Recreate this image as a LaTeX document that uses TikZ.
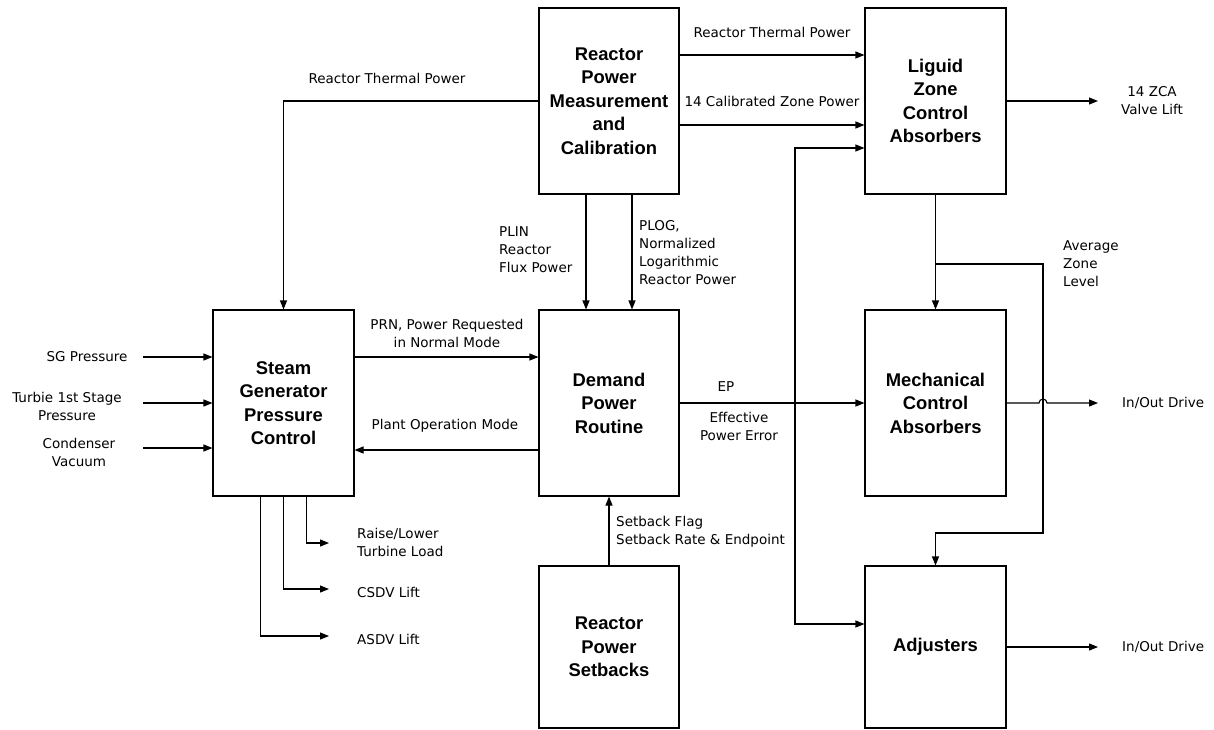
\documentclass[tikz,border=0pt]{standalone}
\usepackage{fontspec}
\setmainfont{DejaVu Sans}
\newfontfamily\tytulfont{Liberation Sans}
\usetikzlibrary{arrows.meta}

\begin{document}
\begin{tikzpicture}[x=1pt,y=-1pt,
	blok/.style={draw,line width=1.1pt,minimum width=140pt,minimum height=186pt,inner sep=0pt,align=center,
		font=\tytulfont\bfseries\fontsize{18.4}{23.5}\selectfont},
	niski/.style={blok,minimum height=162pt},
	strz/.style={line width=1.1pt,-{Triangle[length=9pt,width=7pt]}},
	opis/.style={font=\fontsize{13.5}{18}\selectfont,inner sep=0pt,align=center},
	opisl/.style={opis,align=left,anchor=west}]
	\useasboundingbox (0,0) rectangle (1214,729);
	
	% Bloki
	\node[blok] (rpmc) at (609,101) {Reactor\\Power\\Measurement\\and\\Calibration};
	\node[blok,minimum width=141pt] (lzca) at (935.5,101) {Liguid\\Zone\\Control\\Absorbers};
	\node[blok,minimum width=141pt] (sgpc) at (283.5,403) {Steam\\Generator\\Pressure\\Control};
	\node[blok] (dpr) at (609,403) {Demand\\Power\\Routine};
	\node[blok,minimum width=141pt] (mca) at (935.5,403) {Mechanical\\Control\\Absorbers};
	\node[niski] (rps) at (609,647) {Reactor\\Power\\Setbacks};
	\node[niski,minimum width=141pt] (adj) at (935.5,647) {Adjusters};
	
	% Punkty swobodne
	\coordinate (we1) at (143,357);
	\coordinate (we2) at (143,403);
	\coordinate (we3) at (143,448);
	\coordinate (raise) at (329,543);
	\coordinate (csdv) at (329,589);
	\coordinate (asdv) at (329,636);
	\coordinate (zcaout) at (1098,101);
	\coordinate (mcaout) at (1098,403);
	\coordinate (adjout) at (1098,647);
	\coordinate (szyna) at (795,403);
	\coordinate (rozg) at (935.5,264);
	\coordinate (zakr) at (1043,533);
	\coordinate (skok) at (1043,403);
	
	% Wejscia SGPC
	\draw[strz] (we1) -- (we1 -| sgpc.west);
	\draw[strz] (we2) -- (we2 -| sgpc.west);
	\draw[strz] (we3) -- (we3 -| sgpc.west);
	\node[opis] (sgp) at (87,357) {SG Pressure};
	\node[opis] (tsp) at (67,406) {Turbie 1st Stage\\Pressure};
	\node[opis] (cv) at (79,452) {Condenser\\Vacuum};
	
	% Wyjscia SGPC
	\draw[strz] ([xshift=23pt]sgpc.south) |- (raise);
	\draw[strz] (sgpc.south) |- (csdv);
	\draw[strz] ([xshift=-23pt]sgpc.south) |- (asdv);
	\node[opisl] (rl) at (357,542) {Raise/Lower\\Turbine Load};
	\node[opisl] (cl) at (357,592) {CSDV Lift};
	\node[opisl] (al) at (357,639) {ASDV Lift};
	
	% SGPC <-> DPR
	\draw[strz] ([yshift=46pt]sgpc.east) -- ([yshift=46pt]dpr.west);
	\draw[strz] ([yshift=-47pt]dpr.west) -- ([yshift=-47pt]sgpc.east);
	\node[opis] (prn) at (447,333) {PRN, Power Requested\\in Normal Mode};
	\node[opis] (pom) at (445,426) {Plant Operation Mode};
	
	% RPMC
	\draw[strz] (rpmc.west) -| (sgpc.north);
	\node[opis] (rtp1) at (387,78) {Reactor Thermal Power};
	\draw[strz] ([yshift=46pt]rpmc.east) -- ([yshift=46pt]lzca.west);
	\node[opis] (rtp2) at (772,32) {Reactor Thermal Power};
	\draw[strz] ([yshift=-24pt]rpmc.east) -- ([yshift=-24pt]lzca.west);
	\node[opis] (czp) at (772,101) {14 Calibrated Zone Power};
	\draw[strz] ([xshift=-23pt]rpmc.south) -- ([xshift=-23pt]dpr.north);
	\draw[strz] ([xshift=23pt]rpmc.south) -- ([xshift=23pt]dpr.north);
	\node[opisl] (plin) at (499,250) {PLIN\\Reactor\\Flux Power};
	\node[opisl] (plog) at (639,253) {PLOG,\\Normalized\\Logarithmic\\Reactor Power};
	
	% EP
	\draw[strz] (dpr.east) -- (mca.west);
	\draw[strz] (szyna) |- ([yshift=-47pt]lzca.west);
	\draw[strz] (szyna) |- ([yshift=23pt]adj.west);
	\node[opis] (ep) at (726,387) {EP};
	\node[opis] (epe) at (739,426) {Effective\\Power Error};
	
	% Setbacks
	\draw[strz] (rps.north) -- (dpr.south);
	\node[opisl] (sbf) at (616,532) {Setback Flag\\Setback Rate \& Endpoint};
	
	% LZCA -> MCA, Adjusters
	\draw[strz] (lzca.south) -- (mca.north);
	\draw[strz] (rozg) -| (zakr) -| (adj.north);
	\node[opisl] (azl) at (1063,264) {Average\\Zone\\Level};
	
	% Wyjscia
	\draw[strz] (lzca.east) -- (zcaout);
	\node[opis] (zca) at (1152,101) {14 ZCA\\Valve Lift};
	\draw[strz] (mca.east) -- ([xshift=-4pt]skok) arc[start angle=180,end angle=0,radius=4pt] -- (mcaout);
	\node[opisl] (iod1) at (1122,403) {In/Out Drive};
	\draw[strz] (adj.east) -- (adjout);
	\node[opisl] (iod2) at (1122,647) {In/Out Drive};
\end{tikzpicture}
\end{document}
